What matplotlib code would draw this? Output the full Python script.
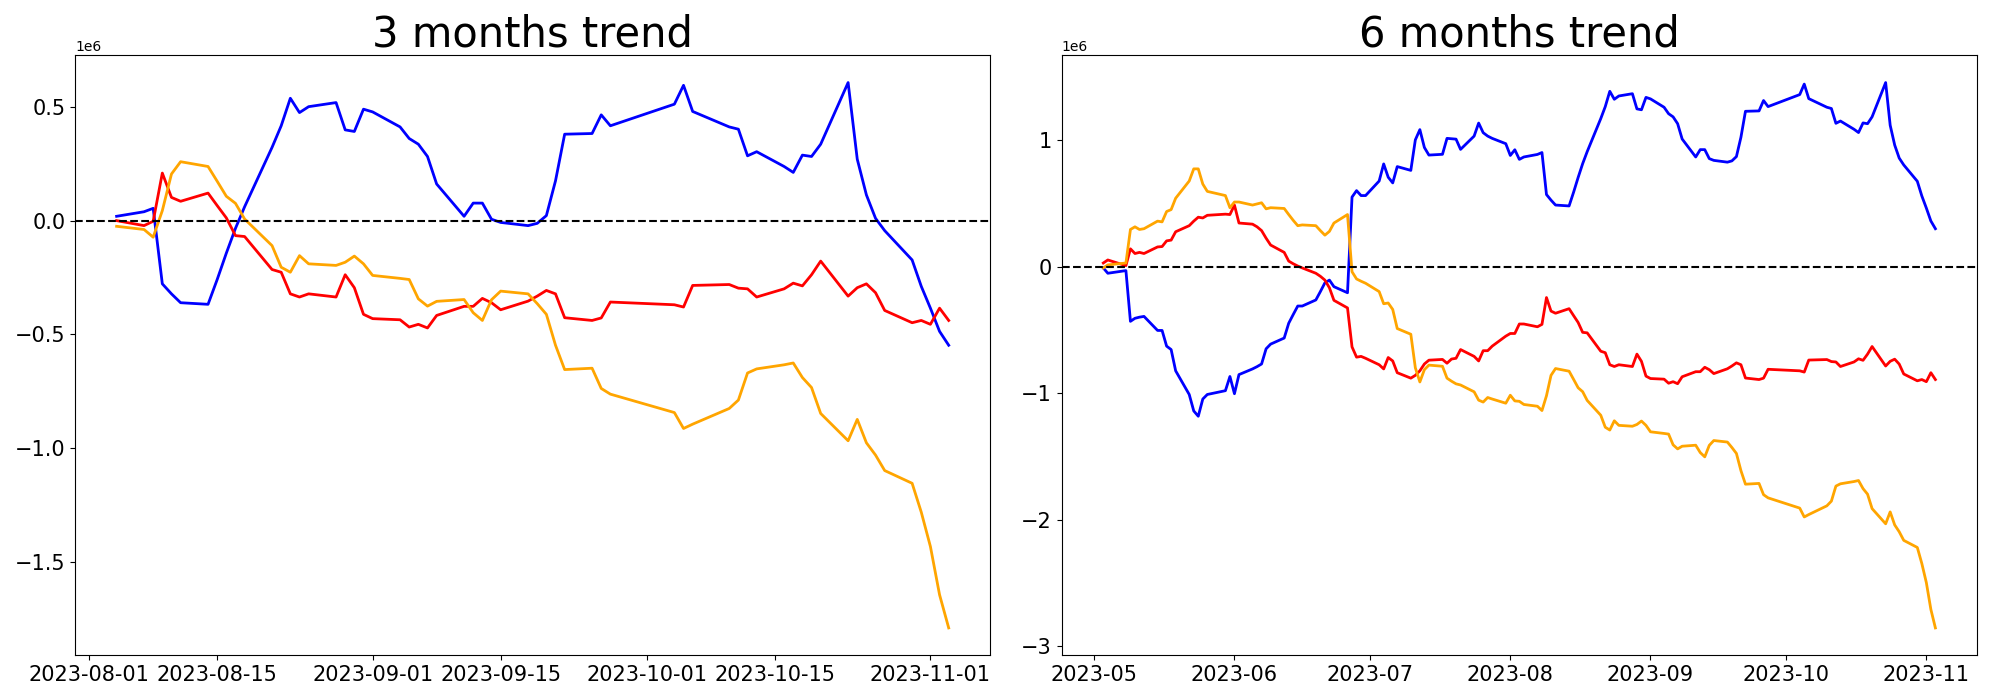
import matplotlib
matplotlib.use("Agg")
import matplotlib.pyplot as plt
import pandas as pd

# values are in millions (axis shows 1e6 offset)
dates_3m = [
    "08-04", "08-07", "08-08", "08-09", "08-10", "08-11", "08-14", "08-15", "08-16", "08-17",
    "08-18", "08-21", "08-22", "08-23", "08-24", "08-25", "08-28", "08-29", "08-30", "08-31",
    "09-01", "09-04", "09-05", "09-06", "09-07", "09-08", "09-11", "09-12", "09-13", "09-14",
    "09-15", "09-18", "09-19", "09-20", "09-21", "09-22", "09-25", "09-26", "09-27",
    "10-04", "10-05", "10-06", "10-10", "10-11", "10-12", "10-13", "10-16", "10-17", "10-18",
    "10-19", "10-20", "10-23", "10-24", "10-25", "10-26", "10-27", "10-30", "10-31",
    "11-01", "11-02", "11-03",
]
blue_3m = [
    0.019, 0.039, 0.054, -0.278, -0.322, -0.361, -0.368, -0.259, -0.143, -0.034,
    0.061, 0.322, 0.417, 0.538, 0.475, 0.501, 0.519, 0.399, 0.392, 0.490,
    0.478, 0.412, 0.361, 0.336, 0.282, 0.161, 0.019, 0.077, 0.077, 0.006,
    -0.008, -0.022, -0.012, 0.022, 0.175, 0.380, 0.383, 0.465, 0.417,
    0.512, 0.595, 0.480, 0.412, 0.402, 0.285, 0.303, 0.238, 0.212, 0.288,
    0.282, 0.336, 0.607, 0.270, 0.113, 0.010, -0.044, -0.173, -0.289,
    -0.385, -0.487, -0.548,
]
red_3m = [
    0.000, -0.022, -0.003, 0.209, 0.102, 0.085, 0.121, 0.066, 0.012, -0.066,
    -0.070, -0.215, -0.227, -0.322, -0.336, -0.322, -0.336, -0.238, -0.295, -0.412,
    -0.431, -0.436, -0.468, -0.456, -0.472, -0.417, -0.377, -0.377, -0.342, -0.361,
    -0.392, -0.354, -0.332, -0.307, -0.322, -0.427, -0.439, -0.428, -0.358,
    -0.370, -0.380, -0.285, -0.281, -0.297, -0.300, -0.336, -0.300, -0.275, -0.287,
    -0.238, -0.178, -0.332, -0.295, -0.278, -0.317, -0.395, -0.449, -0.439,
    -0.456, -0.385, -0.439,
]
orange_3m = [
    -0.025, -0.039, -0.073, 0.044, 0.205, 0.259, 0.238, 0.173, 0.107, 0.076,
    0.007, -0.110, -0.205, -0.227, -0.154, -0.190, -0.197, -0.183, -0.156, -0.190,
    -0.241, -0.254, -0.259, -0.344, -0.376, -0.355, -0.347, -0.405, -0.439, -0.348,
    -0.310, -0.322, -0.365, -0.412, -0.548, -0.655, -0.649, -0.738, -0.763,
    -0.844, -0.914, -0.895, -0.826, -0.789, -0.670, -0.652, -0.634, -0.626, -0.690,
    -0.734, -0.848, -0.968, -0.874, -0.977, -1.031, -1.099, -1.155, -1.282,
    -1.433, -1.645, -1.791,
]

dates_6m = [
    "05-03", "05-04", "05-08", "05-09", "05-10", "05-11", "05-12", "05-15", "05-16", "05-17",
    "05-18", "05-19", "05-22", "05-23", "05-24", "05-25", "05-26", "05-30", "05-31",
    "06-01", "06-02", "06-05", "06-06", "06-07", "06-08", "06-09", "06-12", "06-13", "06-14",
    "06-15", "06-16", "06-19", "06-20", "06-21", "06-22", "06-23", "06-26", "06-27", "06-28",
    "06-29", "06-30",
    "07-03", "07-04", "07-05", "07-06", "07-07", "07-10", "07-11", "07-12", "07-13", "07-14",
    "07-17", "07-18", "07-19", "07-20", "07-21", "07-24", "07-25", "07-26", "07-27", "07-28",
    "07-31",
    "08-01", "08-02", "08-03",
] + dates_3m
blue_6m = [
    -0.009, -0.051, -0.030, -0.431, -0.407, -0.398, -0.392, -0.503, -0.503, -0.627,
    -0.654, -0.822, -1.009, -1.139, -1.181, -1.045, -1.009, -0.979, -0.867,
    -1.003, -0.852, -0.807, -0.789, -0.768, -0.648, -0.611, -0.563, -0.446, -0.377,
    -0.310, -0.310, -0.262, -0.196, -0.127, -0.105, -0.157, -0.205, 0.551, 0.602,
    0.563, 0.563,
    0.678, 0.813, 0.708, 0.663, 0.792, 0.762, 1.003, 1.084, 0.943, 0.883,
    0.889, 1.015, 1.012, 1.009, 0.928, 1.033, 1.136, 1.060, 1.033, 1.015,
    0.973,
    0.880, 0.925, 0.849,
    0.868, 0.888, 0.903, 0.571, 0.527, 0.488, 0.481, 0.590, 0.706, 0.815,
    0.910, 1.171, 1.266, 1.387, 1.324, 1.350, 1.368, 1.248, 1.241, 1.339,
    1.327, 1.261, 1.210, 1.185, 1.131, 1.010, 0.868, 0.926, 0.926, 0.855,
    0.841, 0.827, 0.837, 0.871, 1.024, 1.229, 1.232, 1.314, 1.266,
    1.361, 1.444, 1.329, 1.261, 1.251, 1.134, 1.152, 1.087, 1.061, 1.137,
    1.131, 1.185, 1.456, 1.119, 0.962, 0.859, 0.805, 0.676, 0.560,
    0.464, 0.362, 0.301,
]
red_6m = [
    0.030, 0.054, 0.009, 0.142, 0.105, 0.114, 0.105, 0.157, 0.160, 0.205,
    0.211, 0.277, 0.325, 0.361, 0.392, 0.386, 0.407, 0.416, 0.413,
    0.488, 0.346, 0.337, 0.316, 0.286, 0.226, 0.172, 0.114, 0.045, 0.024,
    0.006, -0.009, -0.051, -0.075, -0.105, -0.166, -0.265, -0.325, -0.633, -0.714,
    -0.708, -0.723,
    -0.774, -0.807, -0.717, -0.744, -0.837, -0.880, -0.858, -0.822, -0.768, -0.738,
    -0.732, -0.762, -0.729, -0.723, -0.654, -0.708, -0.744, -0.663, -0.663, -0.627,
    -0.548,
    -0.527, -0.527, -0.452,
    -0.452, -0.474, -0.455, -0.243, -0.350, -0.367, -0.331, -0.386, -0.440, -0.518,
    -0.522, -0.667, -0.679, -0.774, -0.788, -0.774, -0.788, -0.690, -0.747, -0.864,
    -0.883, -0.888, -0.920, -0.908, -0.924, -0.869, -0.829, -0.829, -0.794, -0.813,
    -0.844, -0.806, -0.784, -0.759, -0.774, -0.879, -0.891, -0.880, -0.810,
    -0.822, -0.832, -0.737, -0.733, -0.749, -0.752, -0.788, -0.752, -0.727, -0.739,
    -0.690, -0.630, -0.784, -0.747, -0.730, -0.769, -0.847, -0.901, -0.891,
    -0.908, -0.837, -0.891,
]
orange_6m = [
    -0.009, 0.015, 0.030, 0.295, 0.316, 0.295, 0.301, 0.361, 0.355, 0.437,
    0.452, 0.542, 0.678, 0.774, 0.774, 0.654, 0.596, 0.563, 0.467,
    0.512, 0.512, 0.488, 0.497, 0.506, 0.458, 0.467, 0.461, 0.413, 0.367,
    0.325, 0.331, 0.325, 0.286, 0.250, 0.280, 0.346, 0.413, -0.039, -0.096,
    -0.114, -0.130,
    -0.196, -0.292, -0.286, -0.337, -0.488, -0.533, -0.798, -0.910, -0.813, -0.777,
    -0.786, -0.880, -0.904, -0.925, -0.934, -0.988, -1.054, -1.069, -1.033, -1.045,
    -1.078,
    -1.015, -1.060, -1.063,
    -1.088, -1.102, -1.136, -1.019, -0.858, -0.804, -0.825, -0.890, -0.956, -0.987,
    -1.056, -1.173, -1.268, -1.290, -1.217, -1.253, -1.260, -1.246, -1.219, -1.253,
    -1.304, -1.317, -1.322, -1.407, -1.439, -1.418, -1.410, -1.468, -1.502, -1.411,
    -1.373, -1.385, -1.428, -1.475, -1.611, -1.718, -1.712, -1.801, -1.826,
    -1.907, -1.977, -1.958, -1.889, -1.852, -1.733, -1.715, -1.697, -1.689, -1.753,
    -1.797, -1.911, -2.031, -1.937, -2.040, -2.094, -2.162, -2.218, -2.345,
    -2.496, -2.708, -2.854,
]

titles = ["3 months trend", "6 months trend"]
panels = [
    (dates_3m, blue_3m, red_3m, orange_3m),
    (dates_6m, blue_6m, red_6m, orange_6m),
]

fig, axes = plt.subplots(1, 2, figsize=(20, 7), dpi=100)
fig.subplots_adjust(left=0.0375, right=0.9885, bottom=0.064, top=0.921, wspace=0.078)

for ax, title, (dates, blue, red, orange) in zip(axes, titles, panels):
    x = pd.to_datetime(["2023-" + d for d in dates])
    ax.plot(x, [v * 1e6 for v in blue], color="blue", linewidth=2)
    ax.plot(x, [v * 1e6 for v in red], color="red", linewidth=2)
    ax.plot(x, [v * 1e6 for v in orange], color="orange", linewidth=2)
    ax.axhline(0, color="black", linestyle="--", linewidth=1.5)
    ax.set_title(title, fontsize=30)
    ax.tick_params(labelsize=15)

fig.savefig("out.png")
